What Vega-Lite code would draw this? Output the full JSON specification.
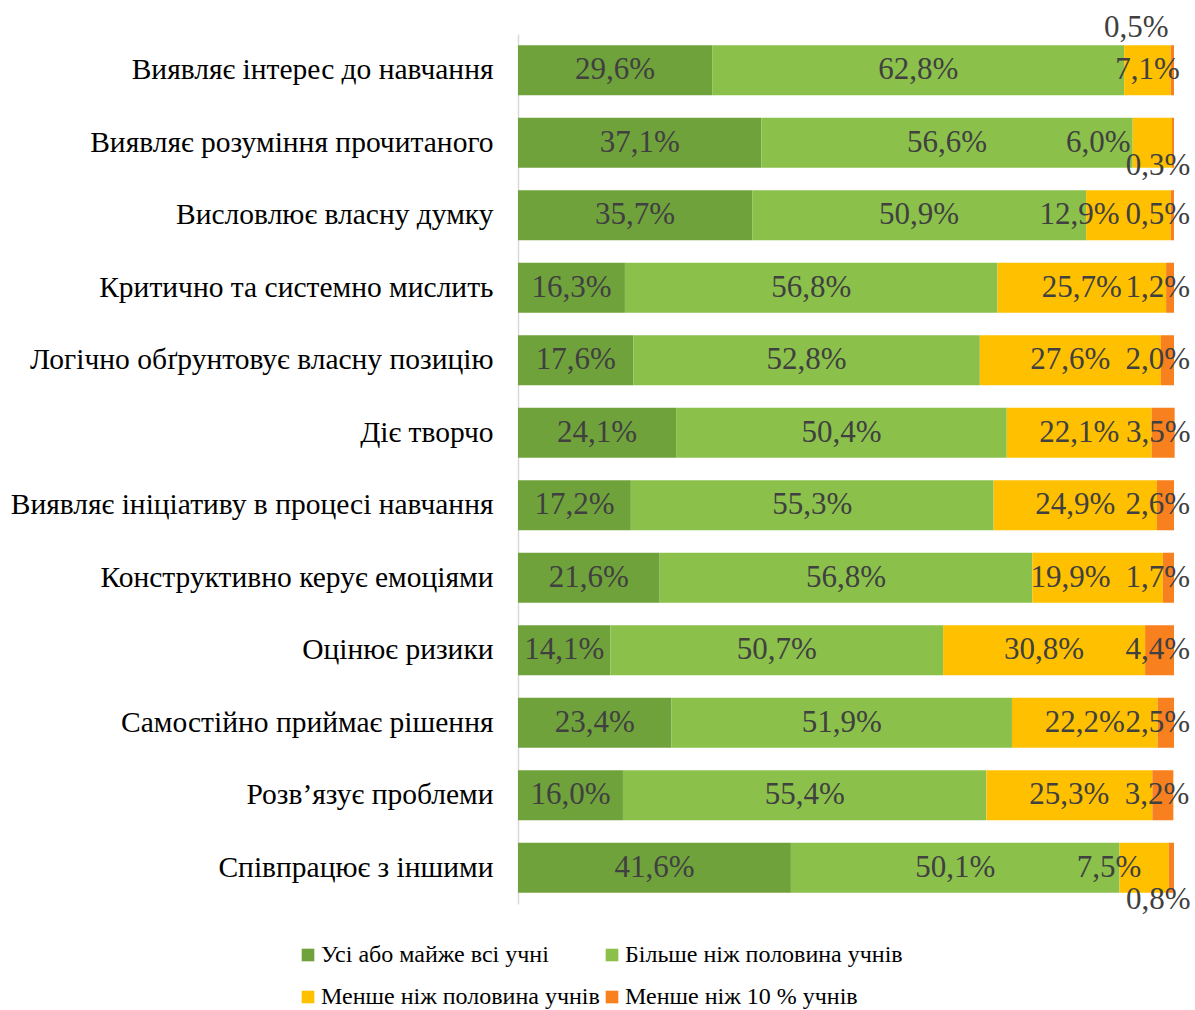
{
  "$schema": "https://vega.github.io/schema/vega-lite/v6.json",
  "width": 656,
  "height": 870,
  "autosize": "none",
  "padding": {"left": 518, "top": 34, "right": 21, "bottom": 106},
  "background": "white",
  "config": {
    "view": {"stroke": null},
    "font": "Liberation Serif",
    "text": {"font": "Liberation Serif"}
  },
  "data": {
    "values": [
      {"c": "Виявляє інтерес до навчання", "s": "Усі або майже всі учні", "o": 1, "v": 29.6},
      {"c": "Виявляє інтерес до навчання", "s": "Більше ніж половина учнів", "o": 2, "v": 62.8},
      {"c": "Виявляє інтерес до навчання", "s": "Менше ніж половина учнів", "o": 3, "v": 7.1},
      {"c": "Виявляє інтерес до навчання", "s": "Менше ніж 10 % учнів", "o": 4, "v": 0.5},
      {"c": "Виявляє розуміння прочитаного", "s": "Усі або майже всі учні", "o": 1, "v": 37.1},
      {"c": "Виявляє розуміння прочитаного", "s": "Більше ніж половина учнів", "o": 2, "v": 56.6},
      {"c": "Виявляє розуміння прочитаного", "s": "Менше ніж половина учнів", "o": 3, "v": 6.0},
      {"c": "Виявляє розуміння прочитаного", "s": "Менше ніж 10 % учнів", "o": 4, "v": 0.3},
      {"c": "Висловлює власну думку", "s": "Усі або майже всі учні", "o": 1, "v": 35.7},
      {"c": "Висловлює власну думку", "s": "Більше ніж половина учнів", "o": 2, "v": 50.9},
      {"c": "Висловлює власну думку", "s": "Менше ніж половина учнів", "o": 3, "v": 12.9},
      {"c": "Висловлює власну думку", "s": "Менше ніж 10 % учнів", "o": 4, "v": 0.5},
      {"c": "Критично та системно мислить", "s": "Усі або майже всі учні", "o": 1, "v": 16.3},
      {"c": "Критично та системно мислить", "s": "Більше ніж половина учнів", "o": 2, "v": 56.8},
      {"c": "Критично та системно мислить", "s": "Менше ніж половина учнів", "o": 3, "v": 25.7},
      {"c": "Критично та системно мислить", "s": "Менше ніж 10 % учнів", "o": 4, "v": 1.2},
      {"c": "Логічно обґрунтовує власну позицію", "s": "Усі або майже всі учні", "o": 1, "v": 17.6},
      {"c": "Логічно обґрунтовує власну позицію", "s": "Більше ніж половина учнів", "o": 2, "v": 52.8},
      {"c": "Логічно обґрунтовує власну позицію", "s": "Менше ніж половина учнів", "o": 3, "v": 27.6},
      {"c": "Логічно обґрунтовує власну позицію", "s": "Менше ніж 10 % учнів", "o": 4, "v": 2.0},
      {"c": "Діє творчо", "s": "Усі або майже всі учні", "o": 1, "v": 24.1},
      {"c": "Діє творчо", "s": "Більше ніж половина учнів", "o": 2, "v": 50.4},
      {"c": "Діє творчо", "s": "Менше ніж половина учнів", "o": 3, "v": 22.1},
      {"c": "Діє творчо", "s": "Менше ніж 10 % учнів", "o": 4, "v": 3.5},
      {"c": "Виявляє ініціативу в процесі навчання", "s": "Усі або майже всі учні", "o": 1, "v": 17.2},
      {"c": "Виявляє ініціативу в процесі навчання", "s": "Більше ніж половина учнів", "o": 2, "v": 55.3},
      {"c": "Виявляє ініціативу в процесі навчання", "s": "Менше ніж половина учнів", "o": 3, "v": 24.9},
      {"c": "Виявляє ініціативу в процесі навчання", "s": "Менше ніж 10 % учнів", "o": 4, "v": 2.6},
      {"c": "Конструктивно керує емоціями", "s": "Усі або майже всі учні", "o": 1, "v": 21.6},
      {"c": "Конструктивно керує емоціями", "s": "Більше ніж половина учнів", "o": 2, "v": 56.8},
      {"c": "Конструктивно керує емоціями", "s": "Менше ніж половина учнів", "o": 3, "v": 19.9},
      {"c": "Конструктивно керує емоціями", "s": "Менше ніж 10 % учнів", "o": 4, "v": 1.7},
      {"c": "Оцінює ризики", "s": "Усі або майже всі учні", "o": 1, "v": 14.1},
      {"c": "Оцінює ризики", "s": "Більше ніж половина учнів", "o": 2, "v": 50.7},
      {"c": "Оцінює ризики", "s": "Менше ніж половина учнів", "o": 3, "v": 30.8},
      {"c": "Оцінює ризики", "s": "Менше ніж 10 % учнів", "o": 4, "v": 4.4},
      {"c": "Самостійно приймає рішення", "s": "Усі або майже всі учні", "o": 1, "v": 23.4},
      {"c": "Самостійно приймає рішення", "s": "Більше ніж половина учнів", "o": 2, "v": 51.9},
      {"c": "Самостійно приймає рішення", "s": "Менше ніж половина учнів", "o": 3, "v": 22.2},
      {"c": "Самостійно приймає рішення", "s": "Менше ніж 10 % учнів", "o": 4, "v": 2.5},
      {"c": "Розв’язує проблеми", "s": "Усі або майже всі учні", "o": 1, "v": 16.0},
      {"c": "Розв’язує проблеми", "s": "Більше ніж половина учнів", "o": 2, "v": 55.4},
      {"c": "Розв’язує проблеми", "s": "Менше ніж половина учнів", "o": 3, "v": 25.3},
      {"c": "Розв’язує проблеми", "s": "Менше ніж 10 % учнів", "o": 4, "v": 3.2},
      {"c": "Співпрацює з іншими", "s": "Усі або майже всі учні", "o": 1, "v": 41.6},
      {"c": "Співпрацює з іншими", "s": "Більше ніж половина учнів", "o": 2, "v": 50.1},
      {"c": "Співпрацює з іншими", "s": "Менше ніж половина учнів", "o": 3, "v": 7.5},
      {"c": "Співпрацює з іншими", "s": "Менше ніж 10 % учнів", "o": 4, "v": 0.8}
    ]
  },
  "transform": [
    {"stack": "v", "groupby": ["c"], "sort": [{"field": "o", "order": "ascending"}], "as": ["v0", "v1"]},
    {"calculate": "(datum.v0 + datum.v1) / 2", "as": "mid"},
    {"calculate": "replace(format(datum.v, '.1f'), '.', ',') + '%'", "as": "lab"}
  ],
  "encoding": {
    "y": {
      "field": "c",
      "type": "nominal",
      "sort": null,
      "scale": {"paddingInner": 0.31, "paddingOuter": 0.155},
      "axis": {
        "title": null,
        "ticks": false,
        "domainColor": "#d9d9d9",
        "domainWidth": 1.5,
        "labelFont": "Liberation Serif",
        "labelFontSize": 29.5,
        "labelColor": "#000000",
        "labelPadding": 25,
        "labelLimit": 520
      }
    }
  },
  "layer": [
    {
      "mark": {"type": "bar"},
      "encoding": {
        "x": {"field": "v0", "type": "quantitative", "scale": {"domain": [0, 100]}, "axis": null},
        "x2": {"field": "v1"},
        "color": {
          "field": "s",
          "type": "nominal",
          "scale": {
            "domain": ["Усі або майже всі учні", "Більше ніж половина учнів", "Менше ніж половина учнів", "Менше ніж 10 % учнів"],
            "range": ["#70A23C", "#8BC14B", "#FFC000", "#F8801E"]
          },
          "legend": {
            "title": null,
            "orient": "none",
            "legendX": -222,
            "legendY": 909,
            "direction": "horizontal",
            "columns": 2,
            "symbolType": "square",
            "symbolSize": 160,
            "symbolStrokeWidth": 0,
            "labelFont": "Liberation Serif",
            "labelFontSize": 24,
            "labelColor": "#000000",
            "labelOffset": 1,
            "labelLimit": 400,
            "columnPadding": 0,
            "rowPadding": 18
          }
        }
      }
    },
    {
      "transform": [
        {"filter": "datum.o <= 3 && !(datum.o == 3 && (datum.c == 'Виявляє розуміння прочитаного' || datum.c == 'Висловлює власну думку' || datum.c == 'Співпрацює з іншими' || datum.c == 'Конструктивно керує емоціями'))"}
      ],
      "mark": {"type": "text", "font": "Liberation Serif", "fontSize": 31, "color": "#404040", "baseline": "middle", "align": "center"},
      "encoding": {"x": {"field": "mid", "type": "quantitative"}, "text": {"field": "lab"}}
    },
    {
      "transform": [{"filter": "datum.o == 3 && datum.c == 'Виявляє розуміння прочитаного'"}],
      "mark": {"type": "text", "font": "Liberation Serif", "fontSize": 31, "color": "#404040", "baseline": "middle", "align": "center", "dx": -54},
      "encoding": {"x": {"field": "mid", "type": "quantitative"}, "text": {"field": "lab"}}
    },
    {
      "transform": [{"filter": "datum.o == 3 && datum.c == 'Висловлює власну думку'"}],
      "mark": {"type": "text", "font": "Liberation Serif", "fontSize": 31, "color": "#404040", "baseline": "middle", "align": "center", "dx": -49},
      "encoding": {"x": {"field": "mid", "type": "quantitative"}, "text": {"field": "lab"}}
    },
    {
      "transform": [{"filter": "datum.o == 3 && datum.c == 'Співпрацює з іншими'"}],
      "mark": {"type": "text", "font": "Liberation Serif", "fontSize": 31, "color": "#404040", "baseline": "middle", "align": "center", "dx": -35},
      "encoding": {"x": {"field": "mid", "type": "quantitative"}, "text": {"field": "lab"}}
    },
    {
      "transform": [{"filter": "datum.o == 3 && datum.c == 'Конструктивно керує емоціями'"}],
      "mark": {"type": "text", "font": "Liberation Serif", "fontSize": 31, "color": "#404040", "baseline": "middle", "align": "center", "dx": -27},
      "encoding": {"x": {"field": "mid", "type": "quantitative"}, "text": {"field": "lab"}}
    },
    {
      "transform": [{"filter": "datum.o == 4 && datum.c != 'Виявляє інтерес до навчання' && datum.c != 'Виявляє розуміння прочитаного' && datum.c != 'Співпрацює з іншими'"}],
      "mark": {"type": "text", "font": "Liberation Serif", "fontSize": 31, "color": "#404040", "baseline": "middle", "align": "right", "dx": 16},
      "encoding": {"x": {"field": "v1", "type": "quantitative"}, "text": {"field": "lab"}}
    },
    {
      "transform": [{"filter": "datum.o == 4 && datum.c == 'Виявляє інтерес до навчання'"}],
      "mark": {"type": "text", "font": "Liberation Serif", "fontSize": 31, "color": "#404040", "baseline": "middle", "align": "center", "dx": -36, "dy": -42},
      "encoding": {"x": {"field": "mid", "type": "quantitative"}, "text": {"field": "lab"}}
    },
    {
      "transform": [{"filter": "datum.o == 4 && datum.c == 'Виявляє розуміння прочитаного'"}],
      "mark": {"type": "text", "font": "Liberation Serif", "fontSize": 31, "color": "#404040", "baseline": "middle", "align": "center", "dx": -15, "dy": 23},
      "encoding": {"x": {"field": "mid", "type": "quantitative"}, "text": {"field": "lab"}}
    },
    {
      "transform": [{"filter": "datum.o == 4 && datum.c == 'Співпрацює з іншими'"}],
      "mark": {"type": "text", "font": "Liberation Serif", "fontSize": 31, "color": "#404040", "baseline": "middle", "align": "center", "dx": -13, "dy": 32},
      "encoding": {"x": {"field": "mid", "type": "quantitative"}, "text": {"field": "lab"}}
    }
  ]
}
